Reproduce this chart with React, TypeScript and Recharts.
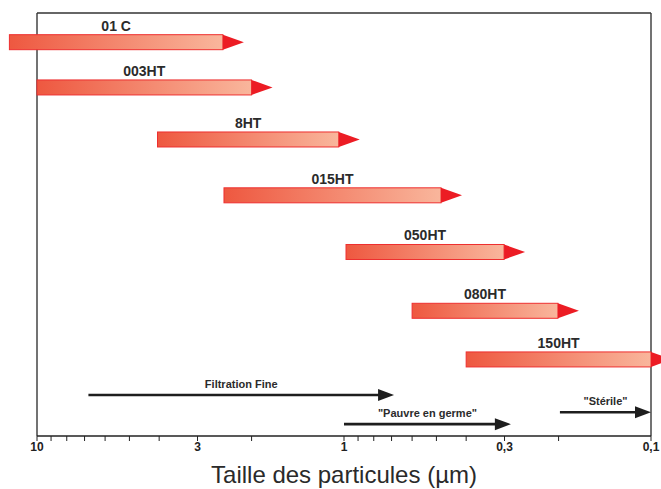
import { ComposedChart, XAxis, YAxis, ReferenceLine, Scatter } from "recharts";

// filter grades: retention range in µm (coarse -> fine) and row level (0 = top, 100 = bottom)
const grades = ["01 C", "003HT", "8HT", "015HT", "050HT", "080HT", "150HT"];
const gradeFrom = [12.3, 10, 4.05, 2.46, 0.985, 0.6, 0.4];
const gradeTo = [2.48, 2.0, 1.04, 0.483, 0.301, 0.201, 0.1];
const gradeLevel = [6.9, 17.6, 29.9, 43.1, 56.5, 70.4, 81.9];

// application ranges (black arrows)
const uses = ["Filtration Fine", "\"Pauvre en germe\"", "\"Stérile\""];
const useFrom = [6.8, 1.0, 0.198];
const useTo = [0.687, 0.286, 0.1];
const useLevel = [90.3, 97.2, 94.4];

const ticks = [10, 9, 8, 7, 6, 5, 4, 3, 2, 1, 0.9, 0.8, 0.7, 0.6, 0.5, 0.4, 0.3, 0.2, 0.1];
const tickLabels: Record<string, string> = { "10": "10", "3": "3", "1": "1", "0.3": "0,3", "0.1": "0,1" };

// end points of every range, fed to a hidden scatter so the axes have data
const endPoints = [
  ...grades.map((_, i) => ({ x: gradeTo[i], y: gradeLevel[i] })),
  ...uses.map((_, i) => ({ x: useFrom[i], y: useLevel[i] })),
];

const FONT = "'Liberation Sans', Arial, sans-serif";
const BAR_H = 15;
const HEAD = 21;

function RedArrow(props: any) {
  const { x1, x2, y1, name } = props;
  const left = Math.min(x1, x2);
  const right = Math.max(x1, x2);
  const top = y1 - BAR_H / 2;
  return (
    <g>
      <rect
        x={left}
        y={top}
        width={right - left}
        height={BAR_H}
        fill="url(#barGrad)"
        stroke="#ee2f2f"
        strokeWidth={1}
      />
      <polygon
        points={`${right},${top} ${right + HEAD},${y1} ${right},${top + BAR_H}`}
        fill="#ec1c24"
      />
      <text
        x={(left + right) / 2}
        y={top - 4}
        textAnchor="middle"
        fontFamily={FONT}
        fontWeight="bold"
        fontSize={14}
        fill="#2b2b2b"
      >
        {name}
      </text>
    </g>
  );
}

function BlackArrow(props: any) {
  const { x1, x2, y1, name } = props;
  const left = Math.min(x1, x2);
  const right = Math.max(x1, x2);
  return (
    <g>
      <line x1={left} y1={y1} x2={right - 14} y2={y1} stroke="#1e1e1e" strokeWidth={2.6} />
      <polygon points={`${right - 16},${y1 - 6} ${right},${y1} ${right - 16},${y1 + 6}`} fill="#1e1e1e" />
      <text
        x={(left + right) / 2}
        y={y1 - 7}
        textAnchor="middle"
        fontFamily={FONT}
        fontWeight="bold"
        fontSize={11}
        fill="#2b2b2b"
      >
        {name}
      </text>
    </g>
  );
}

const noDot = () => <g />;

export default function App() {
  return (
    <div style={{ position: "absolute", left: 0, top: 0, background: "#fff" }}>
      <ComposedChart width={661} height={489} margin={{ top: 13, right: 10, left: 37, bottom: 0 }}>
        <defs>
          <linearGradient id="barGrad" x1="0" y1="0" x2="1" y2="0">
            <stop offset="0%" stopColor="#ee5840" />
            <stop offset="100%" stopColor="#f9b69c" />
          </linearGradient>
        </defs>
        <XAxis
          dataKey="x"
          type="number"
          scale="log"
          domain={[0.1, 10]}
          reversed
          allowDataOverflow
          ticks={ticks}
          interval={0}
          tickFormatter={(v) => tickLabels[String(v)] ?? ""}
          tick={{ fontFamily: FONT, fontWeight: "bold", fontSize: 12, fill: "#222" }}
          tickSize={5}
          tickMargin={1}
          tickLine={{ stroke: "#222" }}
          axisLine={{ stroke: "#222", strokeWidth: 1.3 }}
          height={53}
          label={{
            value: "Taille des particules (µm)",
            position: "insideBottom",
            offset: 6,
            style: { fontFamily: FONT, fontWeight: 400, fontSize: 24, fill: "#2a2a2a" },
          }}
        />
        <YAxis
          dataKey="y"
          type="number"
          domain={[0, 100]}
          reversed
          allowDataOverflow
          width={0}
          tick={false}
          tickLine={false}
          axisLine={false}
        />
        {/* frame: left, right and top borders */}
        <ReferenceLine x={10} stroke="#444" strokeWidth={1.5} />
        <ReferenceLine x={0.1} stroke="#444" strokeWidth={1.5} />
        <ReferenceLine y={0} stroke="#333" strokeWidth={1.5} />
        <Scatter data={endPoints} dataKey="y" shape={noDot} isAnimationActive={false} />
        {grades.map((g, i) => (
          <ReferenceLine
            key={g}
            ifOverflow="visible"
            segment={[
              { x: gradeFrom[i], y: gradeLevel[i] },
              { x: gradeTo[i], y: gradeLevel[i] },
            ]}
            shape={(p: any) => <RedArrow {...p} name={g} />}
          />
        ))}
        {uses.map((u, i) => (
          <ReferenceLine
            key={u}
            ifOverflow="visible"
            segment={[
              { x: useFrom[i], y: useLevel[i] },
              { x: useTo[i], y: useLevel[i] },
            ]}
            shape={(p: any) => <BlackArrow {...p} name={u} />}
          />
        ))}
      </ComposedChart>
    </div>
  );
}
